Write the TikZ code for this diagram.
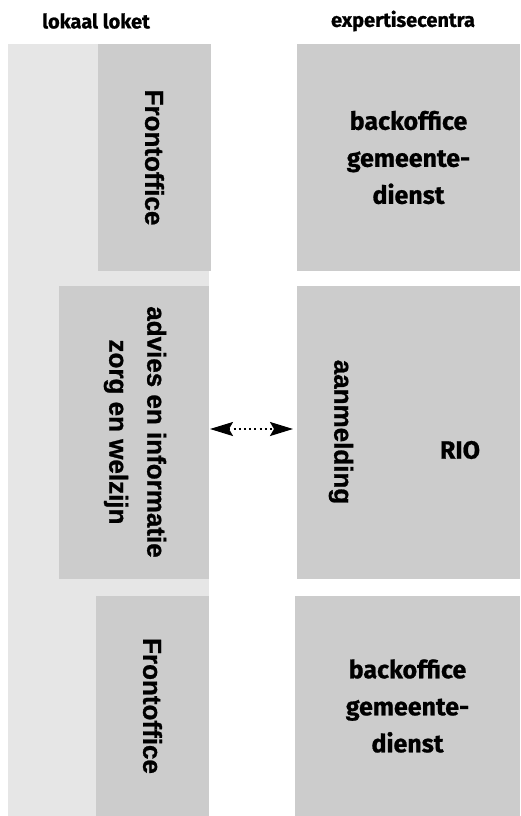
\documentclass[tikz,border=0pt]{standalone}
\usepackage{fontspec}
\setmainfont{Fira Sans}
\newfontfamily\firab{Fira Sans Bold}[FakeBold=0.8]
\newfontfamily\arialf{Liberation Sans Bold}[FakeBold=1]
\usetikzlibrary{arrows.meta}
\definecolor{lightpanel}{HTML}{E6E6E6}
\definecolor{boxgray}{HTML}{CCCCCC}
\tikzset{
  box/.style={fill=boxgray, draw=none, inner sep=0pt, outer sep=0pt},
  head/.style={font=\firab\fontsize{20}{24}\selectfont},
  vtext/.style={rotate=-90, align=center, inner sep=0pt, font=\arialf\fontsize{26}{38}\selectfont},
  htext/.style={align=center, inner sep=0pt, font=\firab\fontsize{25}{37}\selectfont},
  dotarrow/.style={line width=2pt, dash pattern=on 2pt off 3.2pt,
    {Stealth[length=23pt,width=14pt,inset=4pt]}-{Stealth[length=23pt,width=14pt,inset=4pt]}},
}
\begin{document}
\begin{tikzpicture}[x=1pt,y=-1pt]
\useasboundingbox (0,0) rectangle (520,816);
% headings
\node[head] (hl) at (96,21) {lokaal loket};
\node[head] (hr) at (403,21) {expertisecentra};
% left panel
\fill[lightpanel] (8,44) rectangle (209,816);
% left boxes
\node[box, minimum width=113pt, minimum height=227pt] (fo1) at (154.5,157.5) {};
\node[box, minimum width=150pt, minimum height=293pt] (adv) at (134,432.5) {};
\node[box, minimum width=113pt, minimum height=220pt] (fo2) at (152.5,706) {};
% right boxes
\node[box, minimum width=223pt, minimum height=227pt] (bo1) at (408.5,157.5) {};
\node[box, minimum width=223pt, minimum height=293pt] (rio) at (408.5,432.5) {};
\node[box, minimum width=225pt, minimum height=220pt] (bo2) at (407.5,706) {};
% texts
\node[vtext] (t1) at (fo1) {Frontoffice};
\node[vtext] (t2) at (135,432) {advies en informatie\\zorg en welzijn};
\node[vtext] (t3) at (fo2) {Frontoffice};
\node[htext] (t4) at (bo1) {backoffice\\gemeente-\\dienst};
\node[htext] (t5) at (bo2) {backoffice\\gemeente-\\dienst};
\node[vtext] (t6) at (341,432) {aanmelding};
\node[htext] (t7) at (460,450) {RIO};
% arrow
\draw[dotarrow] ([xshift=1pt,yshift=3.5pt]adv.east) -- ([xshift=-4pt,yshift=3.5pt]rio.west);
\end{tikzpicture}
\end{document}
